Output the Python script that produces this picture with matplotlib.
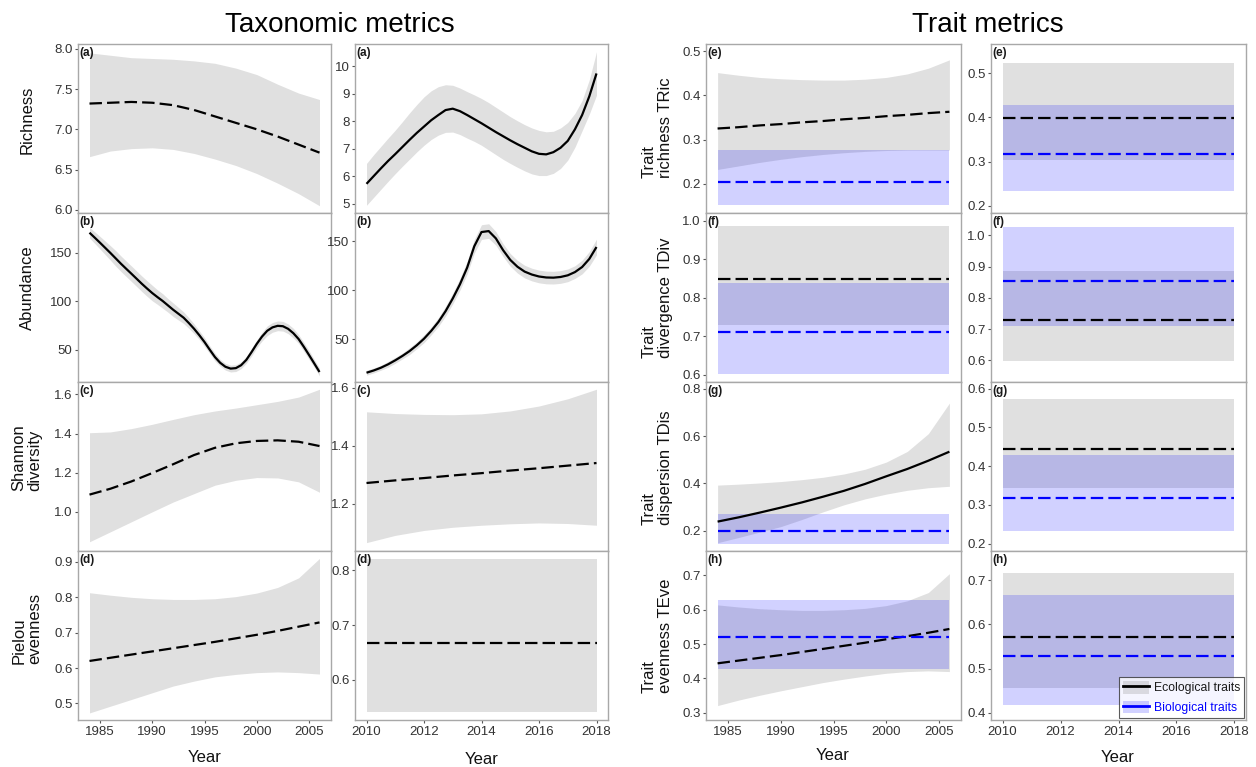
import numpy as np
import matplotlib
matplotlib.use('Agg')
import matplotlib.pyplot as plt
from matplotlib.lines import Line2D
from matplotlib.patches import Patch

plt.rcParams['font.family'] = ['Liberation Sans', 'DejaVu Sans']

# ---------------- data ----------------
# years
yrs_a = np.arange(1984, 2007, 2)            # 1984..2006, 2-year steps
yrs_a_half = np.arange(1984, 2006.25, 0.5)  # 1984..2006, half years
yrs_b = np.arange(2010, 2019)               # 2010..2018, yearly
yrs_b_q = np.arange(2010, 2018.1, 0.25)     # 2010..2018, quarter years
span_a = [1984, 2006]
span_b = [2010, 2018]

# (a) richness
rich_a = [7.32, 7.33, 7.34, 7.33, 7.30, 7.24, 7.16, 7.08, 7.00, 6.91, 6.81, 6.71]
rich_a_hi = [7.95, 7.92, 7.89, 7.88, 7.87, 7.85, 7.82, 7.76, 7.68, 7.56, 7.45, 7.37]
rich_a_lo = [6.66, 6.73, 6.76, 6.77, 6.75, 6.70, 6.63, 6.55, 6.45, 6.33, 6.20, 6.05]
rich_b = [5.72, 6.00, 6.28, 6.55, 6.80, 7.06, 7.32, 7.57, 7.80, 8.03, 8.22, 8.40, 8.45,
          8.36, 8.22, 8.07, 7.92, 7.76, 7.60, 7.45, 7.30, 7.16, 7.03, 6.90, 6.81, 6.79,
          6.87, 7.03, 7.28, 7.70, 8.22, 8.90, 9.73]
rich_b_hi = [6.46, 6.78, 7.08, 7.38, 7.67, 7.98, 8.30, 8.60, 8.88, 9.10, 9.25, 9.32, 9.30,
             9.20, 9.07, 8.95, 8.82, 8.67, 8.50, 8.33, 8.16, 8.01, 7.87, 7.75, 7.66, 7.61,
             7.63, 7.75, 7.95, 8.28, 8.75, 9.50, 10.52]
rich_b_lo = [4.94, 5.23, 5.52, 5.81, 6.09, 6.36, 6.62, 6.88, 7.12, 7.33, 7.49, 7.59, 7.60,
             7.51, 7.38, 7.26, 7.12, 6.95, 6.78, 6.61, 6.46, 6.32, 6.19, 6.08, 6.02, 6.02,
             6.10, 6.28, 6.58, 7.05, 7.65, 8.25, 8.94]

# (b) abundance (mean and half width of the band)
abun_a = [170.6, 165.5, 160.3, 155.0, 149.7, 144.2, 138.7, 133.5, 128.4, 123.2, 118.0, 113.1,
          108.4, 104.2, 100.2, 95.7, 91.2, 87.1, 83.0, 77.5, 71.6, 65.0, 57.9, 50.0, 42.4,
          36.5, 32.4, 30.5, 31.0, 34.0, 39.5, 47.5, 56.0, 63.5, 69.5, 73.0, 74.6, 74.2,
          71.5, 67.0, 61.0, 53.0, 44.5, 35.8, 27.0]
abun_a_se = [5.5, 6, 6.5, 7, 7.5, 8, 8, 8, 8, 8, 8, 8, 8, 7.5, 7.5, 7, 7, 6.5, 6, 5.5, 5,
             4.5, 4.5, 4, 4, 3.5, 3.5, 3.5, 3.5, 3.5, 3.5, 4, 4, 4.5, 5, 5, 5, 5, 5, 5,
             4.5, 4.5, 4.5, 4, 4]
abun_b = [15.5, 17.8, 20.6, 24.1, 28.2, 32.7, 37.7, 43.6, 50.3, 58.3, 67.4, 78.5, 91.5,
          106, 123, 145, 159.5, 160.5, 153, 141, 131, 124, 119, 116, 114, 113, 112.8,
          113.5, 115.2, 118.5, 123.7, 132, 144.2]
abun_b_se = [2.5, 2.5, 2.5, 3, 3, 3, 3.5, 3.5, 4, 4, 4.5, 5, 5.5, 6, 6.5, 7, 7.5, 7.5, 7,
             6.5, 6.5, 6.5, 6.5, 6.5, 6.5, 6.5, 6.5, 6.5, 6.5, 6.5, 7, 7.5, 8]

# (c) Shannon diversity
shan_a = [1.088, 1.118, 1.155, 1.198, 1.243, 1.290, 1.327, 1.350, 1.362, 1.365, 1.358, 1.336]
shan_a_hi = [1.404, 1.408, 1.425, 1.447, 1.472, 1.496, 1.515, 1.530, 1.547, 1.564, 1.586, 1.626]
shan_a_lo = [0.847, 0.898, 0.949, 1.000, 1.050, 1.093, 1.136, 1.161, 1.175, 1.173, 1.153, 1.100]
shan_b = [1.271, 1.280, 1.288, 1.297, 1.305, 1.314, 1.322, 1.331, 1.340]
shan_b_hi = [1.517, 1.511, 1.508, 1.507, 1.510, 1.520, 1.537, 1.562, 1.595]
shan_b_lo = [1.065, 1.090, 1.107, 1.118, 1.125, 1.130, 1.133, 1.131, 1.125]

# (d) Pielou evenness
piel_a = [0.620, 0.629, 0.638, 0.647, 0.656, 0.665, 0.674, 0.684, 0.694, 0.705, 0.717, 0.729]
piel_a_hi = [0.813, 0.806, 0.800, 0.796, 0.794, 0.794, 0.796, 0.802, 0.812, 0.828, 0.855, 0.910]
piel_a_lo = [0.473, 0.492, 0.511, 0.530, 0.549, 0.563, 0.575, 0.582, 0.587, 0.589, 0.587, 0.583]
piel_b = (0.667, 0.821, 0.541)    # mean, upper, lower

# (e) trait richness TRic
tric_eco_a = [0.325, 0.328, 0.332, 0.335, 0.339, 0.342, 0.346, 0.349, 0.353, 0.356, 0.360, 0.363]
tric_eco_a_hi = [0.452, 0.446, 0.441, 0.438, 0.436, 0.435, 0.435, 0.437, 0.441, 0.449, 0.462, 0.481]
tric_eco_a_lo = [0.232, 0.240, 0.248, 0.255, 0.261, 0.266, 0.270, 0.273, 0.275, 0.276, 0.276, 0.276]
tric_bio_a = (0.203, 0.276, 0.151)
tric_eco_b = (0.399, 0.523, 0.303)
tric_bio_b = (0.316, 0.428, 0.233)

# (f) trait divergence TDiv
tdiv_eco_a = (0.848, 0.985, 0.729)
tdiv_bio_a = (0.710, 0.837, 0.603)
tdiv_eco_b = (0.729, 0.887, 0.597)
tdiv_bio_b = (0.854, 1.026, 0.710)

# (g) trait dispersion TDis
tdis_eco_a = [0.239, 0.257, 0.277, 0.298, 0.320, 0.344, 0.369, 0.398, 0.430, 0.461, 0.496, 0.534]
tdis_eco_a_hi = [0.393, 0.397, 0.402, 0.408, 0.416, 0.426, 0.440, 0.460, 0.490, 0.535, 0.610, 0.739]
tdis_eco_a_lo = [0.150, 0.172, 0.195, 0.218, 0.248, 0.280, 0.310, 0.335, 0.355, 0.371, 0.382, 0.388]
tdis_bio_a = (0.200, 0.273, 0.146)
tdis_eco_b = (0.4445, 0.574, 0.344)
tdis_bio_b = (0.317, 0.429, 0.233)

# (h) trait evenness TEve
teve_eco_a = [0.444, 0.452, 0.460, 0.468, 0.477, 0.486, 0.495, 0.504, 0.514, 0.523, 0.533, 0.544]
teve_eco_a_hi = [0.614, 0.608, 0.603, 0.600, 0.598, 0.598, 0.600, 0.604, 0.612, 0.626, 0.650, 0.705]
teve_eco_a_lo = [0.321, 0.337, 0.351, 0.364, 0.376, 0.388, 0.398, 0.407, 0.415, 0.420, 0.422, 0.420]
teve_bio_a = (0.520, 0.629, 0.427)
teve_eco_b = (0.571, 0.717, 0.455)
teve_bio_b = (0.528, 0.667, 0.417)

# ---------------- style ----------------
W, H = 1256, 767
GREY = (0.6, 0.6, 0.6)
GREY_A = 0.3
BLUE_A = 0.18
LW = 1.6
DASH = (0, (5.6, 2.3))
FRAME = '#a8a8a8'
TXT = '#333333'

fig = plt.figure(figsize=(W / 100, H / 100), dpi=100)

col_x = [(78, 331), (355, 608), (706, 961), (991, 1246)]
row_y = [(44, 213), (213, 382), (382, 551), (551, 720)]


def make_ax(c, r):
    x0, x1 = col_x[c]
    y0, y1 = row_y[r]
    return fig.add_axes([x0 / W, 1 - y1 / H, (x1 - x0) / W, (y1 - y0) / H])


def style(ax, letter, yticks, ylim, period, bottom, fmt='{:.1f}'):
    for s in ax.spines.values():
        s.set_color(FRAME)
        s.set_linewidth(1.0)
    ax.set_ylim(*ylim)
    ax.set_yticks(yticks)
    ax.set_yticklabels([fmt.format(v) for v in yticks])
    if period == 'a':
        ax.set_xlim(1982.9, 2007.1)
        xt = [1985, 1990, 1995, 2000, 2005]
    else:
        ax.set_xlim(2009.6, 2018.4)
        xt = [2010, 2012, 2014, 2016, 2018]
    ax.set_xticks(xt)
    ax.tick_params(axis='both', labelsize=9.5, labelcolor=TXT, color='#555555',
                   length=2.5, width=0.8, pad=1.5)
    if bottom:
        ax.set_xticklabels([str(v) for v in xt])
    else:
        ax.tick_params(axis='x', length=0, labelbottom=False)
    ax.text(0.006, 0.985, letter, transform=ax.transAxes, fontsize=8.5,
            fontweight='bold', va='top', ha='left', color='#1a1a1a')


def ribbon(ax, x, lo, hi, color, alpha):
    ax.fill_between(x, lo, hi, color=color, alpha=alpha, linewidth=0)


def curve(ax, x, y, color='black', dashed=True):
    ax.plot(x, y, color=color, lw=LW, linestyle=DASH if dashed else '-',
            solid_capstyle='butt', dash_capstyle='butt', solid_joinstyle='round')


def flat(ax, span, stats, color, fill, alpha):
    m, hi, lo = stats
    ribbon(ax, span, [lo, lo], [hi, hi], fill, alpha)
    curve(ax, span, [m, m], color=color)


# ---- Taxonomic metrics ----
ax = make_ax(0, 0)
ribbon(ax, yrs_a, rich_a_lo, rich_a_hi, GREY, GREY_A)
curve(ax, yrs_a, rich_a)
style(ax, '(a)', [6.0, 6.5, 7.0, 7.5, 8.0], (5.96, 8.06), 'a', False)

ax = make_ax(1, 0)
ribbon(ax, yrs_b_q, rich_b_lo, rich_b_hi, GREY, GREY_A)
curve(ax, yrs_b_q, rich_b, dashed=False)
style(ax, '(a)', [5, 6, 7, 8, 9, 10], (4.66, 10.8), 'b', False, fmt='{:.0f}')

ax = make_ax(0, 1)
a_mean = np.array(abun_a)
a_se = np.array(abun_a_se)
ribbon(ax, yrs_a_half, a_mean - a_se, a_mean + a_se, GREY, GREY_A)
curve(ax, yrs_a_half, abun_a, dashed=False)
style(ax, '(b)', [50, 100, 150], (16.7, 190.9), 'a', False, fmt='{:.0f}')

ax = make_ax(1, 1)
b_mean = np.array(abun_b)
b_se = np.array(abun_b_se)
ribbon(ax, yrs_b_q, b_mean - b_se, b_mean + b_se, GREY, GREY_A)
curve(ax, yrs_b_q, abun_b, dashed=False)
style(ax, '(b)', [50, 100, 150], (6.0, 179), 'b', False, fmt='{:.0f}')

ax = make_ax(0, 2)
ribbon(ax, yrs_a, shan_a_lo, shan_a_hi, GREY, GREY_A)
curve(ax, yrs_a, shan_a)
style(ax, '(c)', [1.0, 1.2, 1.4, 1.6], (0.80, 1.663), 'a', False)

ax = make_ax(1, 2)
ribbon(ax, yrs_b, shan_b_lo, shan_b_hi, GREY, GREY_A)
curve(ax, yrs_b, shan_b)
style(ax, '(c)', [1.2, 1.4, 1.6], (1.036, 1.62), 'b', False)

ax = make_ax(0, 3)
ribbon(ax, yrs_a, piel_a_lo, piel_a_hi, GREY, GREY_A)
curve(ax, yrs_a, piel_a)
style(ax, '(d)', [0.5, 0.6, 0.7, 0.8, 0.9], (0.453, 0.931), 'a', True)

ax = make_ax(1, 3)
flat(ax, span_b, piel_b, 'black', GREY, GREY_A)
style(ax, '(d)', [0.6, 0.7, 0.8], (0.527, 0.835), 'b', True)

# ---- Trait metrics ----
ax = make_ax(2, 0)
ribbon(ax, yrs_a, tric_eco_a_lo, tric_eco_a_hi, GREY, GREY_A)
curve(ax, yrs_a, tric_eco_a)
flat(ax, span_a, tric_bio_a, 'blue', 'blue', BLUE_A)
style(ax, '(e)', [0.2, 0.3, 0.4, 0.5], (0.133, 0.517), 'a', False)

ax = make_ax(3, 0)
flat(ax, span_b, tric_eco_b, 'black', GREY, GREY_A)
flat(ax, span_b, tric_bio_b, 'blue', 'blue', BLUE_A)
style(ax, '(e)', [0.2, 0.3, 0.4, 0.5], (0.183, 0.567), 'b', False)

ax = make_ax(2, 1)
flat(ax, span_a, tdiv_eco_a, 'black', GREY, GREY_A)
flat(ax, span_a, tdiv_bio_a, 'blue', 'blue', BLUE_A)
style(ax, '(f)', [0.6, 0.7, 0.8, 0.9, 1.0], (0.581, 1.02), 'a', False)

ax = make_ax(3, 1)
flat(ax, span_b, tdiv_eco_b, 'black', GREY, GREY_A)
flat(ax, span_b, tdiv_bio_b, 'blue', 'blue', BLUE_A)
style(ax, '(f)', [0.6, 0.7, 0.8, 0.9, 1.0], (0.531, 1.072), 'b', False)

ax = make_ax(2, 2)
ribbon(ax, yrs_a, tdis_eco_a_lo, tdis_eco_a_hi, GREY, GREY_A)
curve(ax, yrs_a, tdis_eco_a, dashed=False)
flat(ax, span_a, tdis_bio_a, 'blue', 'blue', BLUE_A)
style(ax, '(g)', [0.2, 0.4, 0.6, 0.8], (0.115, 0.828), 'a', False)

ax = make_ax(3, 2)
flat(ax, span_b, tdis_eco_b, 'black', GREY, GREY_A)
flat(ax, span_b, tdis_bio_b, 'blue', 'blue', BLUE_A)
style(ax, '(g)', [0.2, 0.3, 0.4, 0.5, 0.6], (0.181, 0.617), 'b', False)

ax = make_ax(2, 3)
ribbon(ax, yrs_a, teve_eco_a_lo, teve_eco_a_hi, GREY, GREY_A)
curve(ax, yrs_a, teve_eco_a)
flat(ax, span_a, teve_bio_a, 'blue', 'blue', BLUE_A)
style(ax, '(h)', [0.3, 0.4, 0.5, 0.6, 0.7], (0.279, 0.771), 'a', True)

ax = make_ax(3, 3)
flat(ax, span_b, teve_eco_b, 'black', GREY, GREY_A)
flat(ax, span_b, teve_bio_b, 'blue', 'blue', BLUE_A)
style(ax, '(h)', [0.4, 0.5, 0.6, 0.7], (0.383, 0.767), 'b', True)

handles = [(Patch(facecolor=GREY, alpha=GREY_A, linewidth=0), Line2D([], [], color='black', lw=LW + 0.4)),
           (Patch(facecolor='blue', alpha=BLUE_A, linewidth=0), Line2D([], [], color='blue', lw=LW + 0.4))]
leg = ax.legend(handles, ['Ecological traits', 'Biological traits'], loc='lower right',
                bbox_to_anchor=(1.0, 0.0), borderaxespad=0.15, fontsize=8.8, frameon=True,
                fancybox=False, handlelength=2.1, handleheight=1.2, handletextpad=0.4,
                labelspacing=0.5, borderpad=0.35)
leg.get_frame().set_edgecolor('#333333')
leg.get_frame().set_linewidth(0.8)
leg.get_texts()[0].set_color('#1a1a1a')
leg.get_texts()[1].set_color('blue')

# ---- labels and titles ----
ylabels = [(27, 120, 'Richness'), (27, 288, 'Abundance'),
           (27, 458, 'Shannon\ndiversity'), (27, 628, 'Pielou\nevenness'),
           (657, 128, 'Trait\nrichness TRic'), (657, 298, 'Trait\ndivergence TDiv'),
           (657, 468, 'Trait\ndispersion TDis'), (657, 636, 'Trait\nevenness TEve')]
for x, y, s in ylabels:
    fig.text(x / W, 1 - y / H, s, rotation=90, ha='center', va='center',
             multialignment='left', fontsize=12, color='#111111', linespacing=1.1)

for x, y in [(205, 757), (482, 759), (833, 756), (1118, 758)]:
    fig.text(x / W, 1 - y / H, 'Year', ha='center', va='center', fontsize=12, color='#111111')

fig.text(340 / W, 1 - 25 / H, 'Taxonomic metrics', ha='center', va='center', fontsize=20)
fig.text(988 / W, 1 - 25 / H, 'Trait metrics', ha='center', va='center', fontsize=20)

fig.savefig('out.png', dpi=100)
